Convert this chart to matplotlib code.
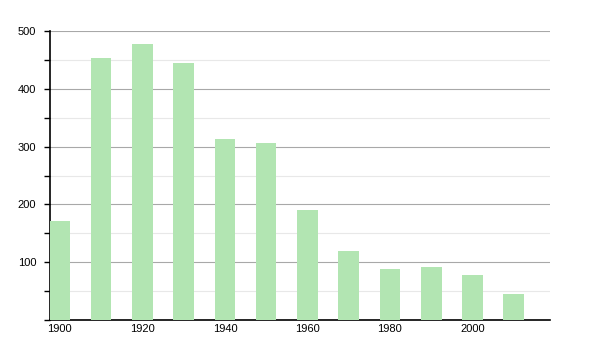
import matplotlib
matplotlib.use("Agg")
import matplotlib.pyplot as plt
from matplotlib.ticker import MultipleLocator

years = [1900, 1910, 1920, 1930, 1940, 1950, 1960, 1970, 1980, 1990, 2000, 2010]
population = [171, 453, 477, 444, 313, 306, 190, 119, 89, 92, 78, 45]
xtick_years = [1900, 1920, 1940, 1960, 1980, 2000]
ytick_values = [100, 200, 300, 400, 500]

plt.rcParams['font.family'] = ['Liberation Sans', 'DejaVu Sans']

fig = plt.figure(figsize=(6, 3.5), dpi=100)
ax = fig.add_axes([50/600, 30/350, 500/600, 289/350])

ax.bar(years, population, width=5, color='#b2e5b2', zorder=3)

ax.set_xlim(1897.6, 2018.8)
ax.set_ylim(0, 500)

ax.yaxis.set_major_locator(MultipleLocator(100))
ax.yaxis.set_minor_locator(MultipleLocator(50))
ax.set_yticks(ytick_values)
ax.set_yticklabels([str(v) for v in ytick_values])
ax.set_xticks(xtick_years)
ax.set_xticklabels([str(v) for v in xtick_years])

ax.grid(axis='y', which='major', color='#a8a8a8', linewidth=0.8, zorder=1)
ax.grid(axis='y', which='minor', color='#e8e8e8', linewidth=0.8, zorder=1)

for s in ['top', 'right']:
    ax.spines[s].set_visible(False)
ax.spines['left'].set_linewidth(1.2)
ax.spines['bottom'].set_linewidth(1.2)

ax.tick_params(axis='y', which='both', direction='out', length=4, width=1, labelsize=8, pad=6)
ax.tick_params(axis='x', which='both', length=0, labelsize=8, pad=3)

fig.savefig('out.png', dpi=100)
